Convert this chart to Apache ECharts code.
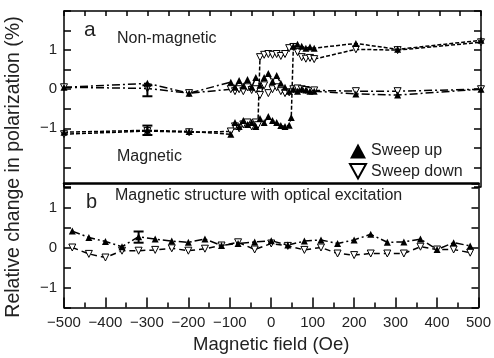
<!DOCTYPE html>
<html>
<head>
<meta charset="utf-8">
<script src="https://cdn.jsdelivr.net/npm/echarts@6/dist/echarts.min.js"></script>
<style>
html, body { margin: 0; padding: 0; background: #fff; }
#chart { width: 494px; height: 358px; }
</style>
</head>
<body>
<div id="chart"></div>
<script>
// panel a: field values (Oe)
var fieldA = [-500, -300, -200, -100, -90, -80, -70, -60, -50, -40, -30, -20, -10, 0,
    10, 20, 30, 40, 50, 60, 70, 80, 90, 100, 200, 300, 500];
var nonMagUp = [0.05, 0.15, -0.1, 0.18, 0.05, 0.22, 0.08, 0.25, 0.05, 0.3, 0.1, 0.3, 0.4, 0.2,
    0.35, 0.15, 0.05, -0.05, 0.0, -0.05, 0.0, -0.02, -0.05, -0.05, -0.12, -0.15, 0.0];
var nonMagDown = [0.05, 0.02, -0.1, 0.0, -0.05, 0.0, -0.05, 0.05, -0.02, 0.0, -0.15, 0.1, -0.1, 0.0,
    0.05, -0.05, -0.1, -0.08, 0.0, 0.02, 0.0, -0.02, -0.05, -0.03, -0.05, -0.05, 0.0];

var magUpField = [-500, -300, -200, -100, -90, -80, -70, -60, -50, -40, -30, -20, -10, 0,
    10, 20, 30, 40, 45, 50, 60, 70, 80, 90, 100, 200, 300, 500];
var magUp = [-1.1, -1.05, -1.08, -1.15, -0.85, -0.95, -0.8, -0.9, -0.85, -0.95, -0.75, -0.85, -0.7, -0.8,
    -0.85, -0.93, -0.95, -0.92, -0.72, 1.1, 1.15, 1.1, 1.05, 1.08, 1.05, 1.17, 1.02, 1.25];

var magDownField = [-500, -300, -200, -100, -90, -80, -70, -60, -50, -40, -35, -30, -20, -10, 0,
    10, 20, 30, 40, 50, 60, 70, 80, 90, 100, 200, 300, 500];
var magDown = [-1.15, -1.07, -1.1, -1.08, -0.95, -1.0, -0.9, -0.85, -0.95, -0.85, -0.92, 0.82, 0.88, 0.9, 0.88,
    0.9, 0.85, 0.9, 1.05, 1.08, 0.95, 0.82, 0.78, 0.8, 0.77, 1.02, 1.0, 1.2];

// panel b
var fieldB = [-480, -440, -400, -360, -320, -280, -240, -200, -160, -120, -80, -40, 0,
    40, 80, 120, 160, 200, 240, 280, 320, 360, 400, 440, 480];
var optUp = [0.41, 0.25, 0.15, 0.02, 0.27, 0.21, 0.16, 0.13, 0.21, 0.05, 0.1, 0.14, 0.17,
    0.06, 0.16, 0.19, 0.1, 0.19, 0.33, 0.13, 0.14, 0.21, -0.05, 0.12, 0.04];
var optDown = [0.0, -0.16, -0.25, -0.08, -0.08, -0.06, -0.02, -0.08, -0.03, 0.05, 0.13, -0.05, 0.1,
    0.04, -0.06, 0.0, -0.15, -0.19, -0.15, -0.15, -0.15, 0.02, -0.05, -0.05, -0.13];

// error bars: x, centre, half height
var errA = [[-300, -0.04, 0.14], [-300, -1.05, 0.12]];
var errB = [[-320, 0.26, 0.14]];

function zip(xs, ys) {
    return xs.map(function (x, i) { return [x, ys[i]]; });
}

var downSym = 'path://M0,0L10,0L5,9Z';
var ink = '#000';
var txt = '#222';
var font = 'Liberation Sans, Arial, sans-serif';

function yLabel(v) {
    var r = Math.round(v);
    if (Math.abs(v - r) > 1e-6 || Math.abs(r) > 1) return '';
    return r < 0 ? '\u2212' + (-r) : String(Math.abs(r));
}

function errRender(params, api) {
    var x = api.value(0), y = api.value(1), e = api.value(2);
    var t = api.coord([x, y + e]);
    var b = api.coord([x, y - e]);
    var st = { stroke: ink, lineWidth: 2 };
    return {
        type: 'group',
        children: [
            { type: 'line', shape: { x1: t[0], y1: t[1], x2: b[0], y2: b[1] }, style: st },
            { type: 'line', shape: { x1: t[0] - 5, y1: t[1], x2: t[0] + 5, y2: t[1] }, style: st },
            { type: 'line', shape: { x1: b[0] - 5, y1: b[1], x2: b[0] + 5, y2: b[1] }, style: st }
        ]
    };
}

function upSeries(name, xi, yi, data, dash) {
    return {
        name: name, type: 'line', xAxisIndex: xi, yAxisIndex: yi, data: data,
        symbol: 'triangle', symbolSize: 7, showAllSymbol: true, animation: false,
        itemStyle: { color: ink },
        lineStyle: { color: ink, width: 1.5, type: dash }
    };
}
function downSeries(name, xi, yi, data, dash) {
    return {
        name: name, type: 'line', xAxisIndex: xi, yAxisIndex: yi, data: data,
        symbol: downSym, symbolSize: [7, 7], showAllSymbol: true, animation: false,
        itemStyle: { color: '#fff', borderColor: ink, borderWidth: 1 },
        lineStyle: { color: ink, width: 1.5, type: dash }
    };
}

var dashDot = [8, 3, 2, 3];
var dashed = [4, 2];

var axLine = { show: true, onZero: false, lineStyle: { color: ink, width: 1.5 } };
var tickStyle = { color: ink, width: 1.5 };

var myChart = echarts.init(document.getElementById('chart'));
var option = {
    animation: false,
    textStyle: { fontFamily: font },
    grid: [
        { left: 64, right: 13, top: 11, height: 176 },
        { left: 64, right: 13, top: 183.5, height: 124 }
    ],
    legend: {
        left: 349, top: 143, orient: 'vertical',
        itemWidth: 16, itemHeight: 15, itemGap: 4, padding: 0,
        textStyle: { fontSize: 16, color: txt, fontFamily: font },
        data: [
            { name: 'Sweep up', icon: 'triangle', itemStyle: { color: ink } },
            { name: 'Sweep down', icon: downSym, itemStyle: { color: '#fff', borderColor: ink, borderWidth: 2 } }
        ]
    },
    xAxis: [
        {
            gridIndex: 0, type: 'value', position: 'top', min: -500, max: 500, interval: 50,
            axisLine: axLine, axisTick: { inside: true, length: 5, lineStyle: tickStyle },
            axisLabel: { show: false }, splitLine: { show: false }
        },
        {
            gridIndex: 1, type: 'value', position: 'bottom', min: -500, max: 500, interval: 100,
            axisLine: axLine, axisTick: { inside: true, length: 10, lineStyle: tickStyle },
            minorTick: { show: true, splitNumber: 2, length: 5, lineStyle: tickStyle },
            axisLabel: {
                fontSize: 15, color: txt, margin: 8, fontFamily: font,
                formatter: function (v) { return v < 0 ? '\u2212' + (-v) : String(v); }
            },
            splitLine: { show: false },
            name: 'Magnetic field (Oe)', nameLocation: 'middle', nameGap: 28,
            nameTextStyle: { fontSize: 18.5, color: txt, fontFamily: font }
        },
        {
            gridIndex: 1, type: 'value', position: 'top', min: -500, max: 500,
            axisLine: { show: true, onZero: false, lineStyle: { color: ink, width: 2.5 } },
            axisTick: { show: false }, axisLabel: { show: false }, splitLine: { show: false }
        }
    ],
    yAxis: [
        {
            gridIndex: 0, type: 'value', position: 'left', min: -2.5, max: 2, interval: 0.5,
            axisLine: axLine, axisTick: { inside: true, length: 7, lineStyle: tickStyle },
            axisLabel: { fontSize: 15, color: txt, margin: 7, formatter: yLabel, fontFamily: font },
            splitLine: { show: false }
        },
        {
            gridIndex: 0, type: 'value', position: 'right', min: -2.5, max: 2, interval: 0.5,
            axisLine: axLine, axisTick: { inside: true, length: 7, lineStyle: tickStyle },
            axisLabel: { show: false }, splitLine: { show: false }
        },
        {
            gridIndex: 1, type: 'value', position: 'left', min: -1.5, max: 1.6, interval: 0.5,
            axisLine: axLine, axisTick: { inside: true, length: 7, lineStyle: tickStyle },
            axisLabel: { fontSize: 15, color: txt, margin: 7, formatter: yLabel, fontFamily: font },
            splitLine: { show: false }
        },
        {
            gridIndex: 1, type: 'value', position: 'right', min: -1.5, max: 1.6, interval: 0.5,
            axisLine: axLine, axisTick: { inside: true, length: 7, lineStyle: tickStyle },
            axisLabel: { show: false }, splitLine: { show: false }
        }
    ],
    graphic: [
        { type: 'text', left: 84, top: 20, style: { text: 'a', fontSize: 21, fill: txt, fontFamily: font } },
        { type: 'text', left: 117, top: 31, style: { text: 'Non-magnetic', fontSize: 16, fill: txt, fontFamily: font } },
        { type: 'text', left: 117, top: 149, style: { text: 'Magnetic', fontSize: 16, fill: txt, fontFamily: font } },
        { type: 'text', left: 86, top: 192, style: { text: 'b', fontSize: 20, fill: txt, fontFamily: font } },
        { type: 'text', left: 115, top: 188, style: { text: 'Magnetic structure with optical excitation', fontSize: 16, fill: txt, fontFamily: font } },
        {
            type: 'text', x: 14, y: 167, rotation: Math.PI / 2,
            style: { text: 'Relative change in polarization (%)', fontSize: 19.5, fill: txt, fontFamily: font, align: 'center', verticalAlign: 'middle' }
        }
    ],
    series: [
        downSeries('Sweep down', 0, 0, zip(fieldA, nonMagDown), dashDot),
        upSeries('Sweep up', 0, 0, zip(fieldA, nonMagUp), dashDot),
        downSeries('Sweep down', 0, 0, zip(magDownField, magDown), dashed),
        upSeries('Sweep up', 0, 0, zip(magUpField, magUp), dashed),
        downSeries('Sweep down', 1, 2, zip(fieldB, optDown), [6, 4]),
        upSeries('Sweep up', 1, 2, zip(fieldB, optUp), dashDot),
        { type: 'custom', xAxisIndex: 0, yAxisIndex: 0, data: errA, renderItem: errRender, z: 5 },
        { type: 'custom', xAxisIndex: 1, yAxisIndex: 2, data: errB, renderItem: errRender, z: 5 }
    ]
};
myChart.setOption(option);
</script>
</body>
</html>
